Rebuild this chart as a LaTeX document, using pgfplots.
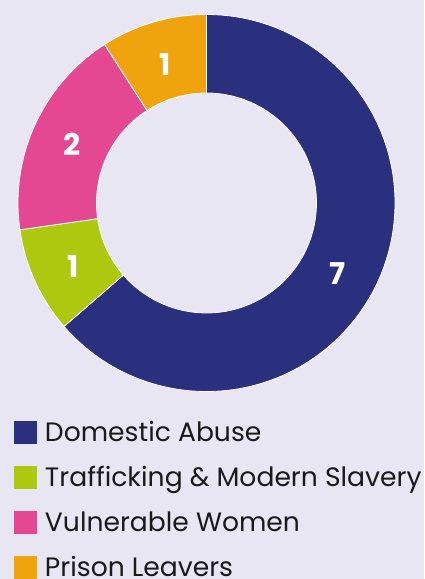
\documentclass[border=0pt]{standalone}
\usepackage{pgfplots}
\pgfplotsset{compat=1.18}
\usepackage{pgfplotstable}
\usepackage{fontspec}
\setmainfont{Poppins}
\definecolor{bgc}{HTML}{E8E6F3}
\definecolor{cnavy}{HTML}{2A2F7E}
\definecolor{clime}{HTML}{ADC90F}
\definecolor{cpink}{HTML}{E44892}
\definecolor{corange}{HTML}{EFA30D}
\definecolor{ctext}{HTML}{1A1A1A}

\pgfplotstableread{
value
7
1
2
1
}\piedata

\pgfplotstablegetelem{0}{value}\of\piedata \let\vA\pgfplotsretval
\pgfplotstablegetelem{1}{value}\of\piedata \let\vB\pgfplotsretval
\pgfplotstablegetelem{2}{value}\of\piedata \let\vC\pgfplotsretval
\pgfplotstablegetelem{3}{value}\of\piedata \let\vD\pgfplotsretval
\pgfmathsetmacro\tot{\vA+\vB+\vC+\vD}
\pgfmathsetmacro\aA{90}
\pgfmathsetmacro\aB{\aA-360*\vA/\tot}
\pgfmathsetmacro\aC{\aB-360*\vB/\tot}
\pgfmathsetmacro\aD{\aC-360*\vC/\tot}
\pgfmathsetmacro\aE{\aD-360*\vD/\tot}
\def\cx{206.5}
\def\cy{376}
\def\Rout{188.5}
\def\Rin{110}

\newcommand\donutwedge[3]{%
  \fill[#3, draw=white, line width=0.8pt]
    (axis cs:{\cx+\Rout*cos(#1)},{\cy+\Rout*sin(#1)})
    arc[start angle=#1, end angle=#2, radius=\Rout pt]
    -- (axis cs:{\cx+\Rin*cos(#2)},{\cy+\Rin*sin(#2)})
    arc[start angle=#2, end angle=#1, radius=\Rin pt] -- cycle;}

\begin{document}
\begin{tikzpicture}
\begin{axis}[
  x=1pt, y=1pt,
  xmin=0, xmax=424, ymin=0, ymax=579,
  hide axis, clip=false,
  legend image code/.code={\fill[#1] (0pt,-2pt) rectangle (23pt,21pt); \path (31pt,0pt);},
  legend style={at={(axis cs:14,158)}, anchor=north west, draw=none, fill=none,
    inner sep=0pt, outer sep=0pt, row sep=22pt, column sep=0pt,
    font=\fontsize{26.6}{32}\selectfont, text=ctext,
    cells={anchor=base west},
    nodes={inner sep=0pt, text height=16pt, text depth=2pt}},
]
\fill[bgc] (axis cs:0,0) rectangle (axis cs:424,579);
\donutwedge{\aA}{\aB}{cnavy}
\donutwedge{\aB}{\aC}{clime}
\donutwedge{\aC}{\aD}{cpink}
\donutwedge{\aD}{\aE}{corange}
\addlegendimage{fill=cnavy, draw=none}
\addlegendentry{Domestic Abuse}
\addlegendimage{fill=clime, draw=none}
\addlegendentry{Trafficking \& Modern Slavery}
\addlegendimage{fill=cpink, draw=none}
\addlegendentry{Vulnerable Women}
\addlegendimage{fill=corange, draw=none}
\addlegendentry{Prison Leavers}
\node[text=white, font=\fontsize{30}{30}\selectfont\bfseries] at (axis cs:338,305) {7};
\node[text=white, font=\fontsize{30}{30}\selectfont\bfseries] at (axis cs:73,312) {1};
\node[text=white, font=\fontsize{30}{30}\selectfont\bfseries] at (axis cs:72,435) {2};
\node[text=white, font=\fontsize{30}{30}\selectfont\bfseries] at (axis cs:165,514) {1};
\end{axis}
\end{tikzpicture}
\end{document}
